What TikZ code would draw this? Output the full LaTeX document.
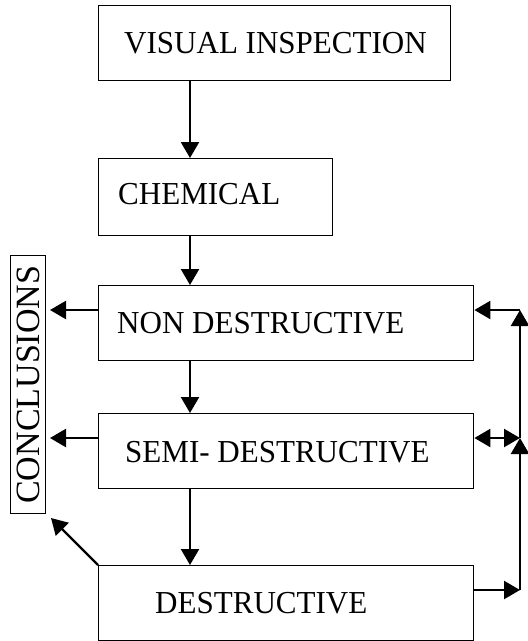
\documentclass[tikz,border=0pt]{standalone}
\usepackage{fontspec}
\setmainfont{Liberation Serif}
\newfontfamily\boxfont[FakeStretch=0.97]{Liberation Serif}
\usetikzlibrary{arrows.meta}
\begin{document}
\begin{tikzpicture}[x=1pt,y=-1pt,
  box/.style={draw,line width=1.4pt,anchor=north west,inner sep=0pt},
  lbl/.style={anchor=west,inner sep=0pt,font=\boxfont\fontsize{32}{36}\selectfont},
  arr/.style={line width=2.4pt,-{Triangle[length=16pt,width=18pt]}},
  dbl/.style={line width=2.4pt,{Triangle[length=16pt,width=18pt]}-{Triangle[length=16pt,width=18pt]}}]
\useasboundingbox (0,0) rectangle (528,641);
% boxes
\node[box,minimum width=352pt,minimum height=75pt] (vis) at (98,5) {};
\node[box,minimum width=234pt,minimum height=77pt] (chem) at (98,158) {};
\node[box,minimum width=375pt,minimum height=75pt] (nd) at (98,285) {};
\node[box,minimum width=375pt,minimum height=75pt] (semi) at (98,413) {};
\node[box,minimum width=375pt,minimum height=75pt] (dest) at (98,565) {};
\node[box,minimum width=35pt,minimum height=258pt] (concl) at (10,255) {};
% labels
\node[lbl] (tvis) at ([xshift=26pt]vis.west) {VISUAL INSPECTION};
\node[lbl] (tchem) at ([xshift=20pt,yshift=3pt]chem.west) {CHEMICAL};
\node[lbl] (tnd) at ([xshift=19pt]nd.west) {NON DESTRUCTIVE};
\node[lbl] (tsemi) at ([xshift=27pt,yshift=-1pt]semi.west) {SEMI- DESTRUCTIVE};
\node[lbl] (tdest) at ([xshift=57pt]dest.west) {DESTRUCTIVE};
\node[inner sep=0pt,rotate=90,font=\fontsize{34}{38}\selectfont] (tconcl) at (concl.center) {CONCLUSIONS};
% coordinates
\coordinate (col) at (190,0);
\coordinate (r1) at (520,310);
\coordinate (r2) at (520,438);
\coordinate (r3) at (520,590);
\coordinate (c1) at (50,310);
\coordinate (c2) at (50,438);
\coordinate (c3) at (51,518);
% vertical flow
\draw[arr] (vis.south -| col) -- (chem.north -| col);
\draw[arr] (chem.south -| col) -- (nd.north -| col);
\draw[arr] (nd.south -| col) -- (semi.north -| col);
\draw[arr] (semi.south -| col) -- (dest.north -| col);
% to conclusions
\draw[arr] (nd.west |- c1) -- (c1);
\draw[arr] (semi.west |- c2) -- (c2);
\draw[arr] (dest.north west) -- (c3);
% right feedback
\draw[arr] (dest.east |- r3) -- (r3);
\draw[arr] (r3) -- (r2);
\draw[arr] (r2) -- (r1);
\draw[arr] (r1) -- (nd.east |- r1);
\draw[dbl] (semi.east |- r2) -- (r2);
\end{tikzpicture}
\end{document}
